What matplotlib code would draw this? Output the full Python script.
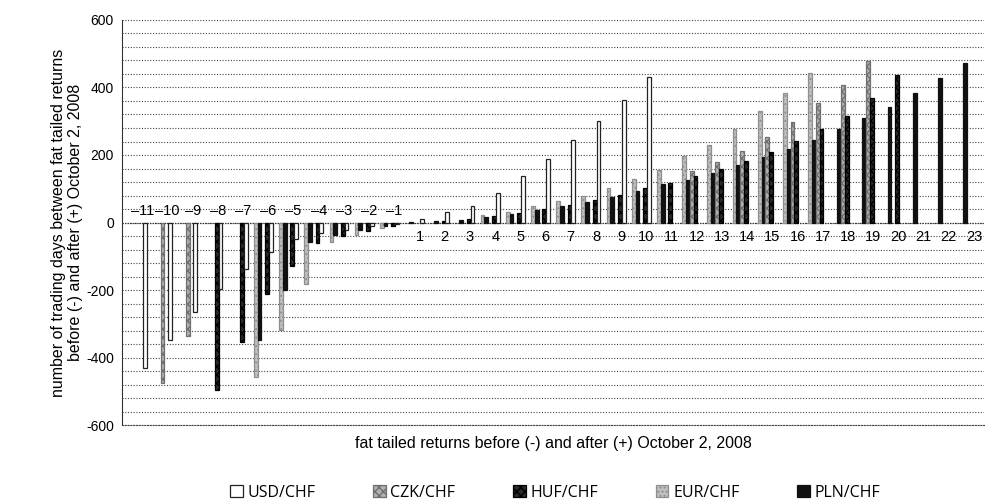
import numpy as np
import matplotlib.pyplot as plt

nan = np.nan

# category labels: fat tailed returns before (-) and after (+) Oct 2, 2008
cats = list(range(-11, 0)) + list(range(1, 24))

usd = [-430, -347, -266, -198, -139, -87, -48, -31, -21, -11, -3,
       11, 31, 50, 86, 137, 189, 244, 302, 362, 432,
       nan, nan, nan, nan, nan, nan, nan, nan, nan, nan, nan, nan, nan]
czk = [nan, -475, -335, nan, nan, nan, nan, nan, nan, nan, nan,
       nan, nan, nan, nan, nan, nan, nan, nan, nan, nan, nan,
       152, 179, 211, 253, 297, 353, 406, 478, nan, nan, nan, nan]
huf = [nan, nan, nan, -497, -355, -213, -129, -60, -40, -26, -11,
       nan, 4, 11, 19, 27, 39, 53, 66, 82, 101, 118,
       137, 159, 182, 208, 241, 278, 315, 369, 436, nan, nan, nan]
eur = [nan, nan, nan, nan, nan, -458, -319, -181, -58, -36, -16,
       nan, nan, nan, 22, 32, 48, 63, 80, 103, 129, 157,
       197, 231, 276, 330, 384, 443, nan, nan, nan, nan, nan, nan]
pln = [nan, nan, nan, nan, nan, -347, -200, -58, -36, -21, -9,
       2, 4, 8, 17, 24, 36, 50, 60, 75, 93, 113,
       127, 147, 169, 194, 218, 243, 276, 310, 343, 384, 429, 473]

plt.rcParams['font.family'] = ['Liberation Sans', 'DejaVu Sans']
plt.rcParams['axes.unicode_minus'] = False

fig = plt.figure(figsize=(9.86, 5), dpi=100)
ax = fig.add_axes([0.124, 0.15, 0.874, 0.81])

x = np.arange(len(cats))
w = 0.15

# order of bars inside a group as seen in the scan
bars = [
    ('EUR/CHF', eur, -2, dict(color='#c0c0c0', edgecolor='#8f8f8f', hatch='....')),
    ('PLN/CHF', pln, -1, dict(color='#111111', edgecolor='#111111')),
    ('CZK/CHF', czk, 0, dict(color='#b0b0b0', edgecolor='#707070', hatch='xxxx')),
    ('HUF/CHF', huf, 1, dict(color='#2a2a2a', edgecolor='#000000', hatch='xxxx')),
    ('USD/CHF', usd, 2, dict(color='white', edgecolor='#222222')),
]
handles = {}
for name, vals, k, style in bars:
    b = ax.bar(x + k * w, vals, w, linewidth=0.9, label=name, zorder=3, **style)
    handles[name] = b

ax.set_xlim(-0.6, len(cats) - 0.4)
ax.set_ylim(-600, 600)
ax.set_yticks(range(-600, 601, 200))
ax.set_yticks(range(-600, 601, 40), minor=True)
ax.tick_params(axis='y', which='both', length=0, labelsize=10, pad=6)
ax.set_xticks([])
ax.grid(axis='y', which='both', linestyle=(0, (1, 1.5)), color='#444444', linewidth=0.8)
ax.set_axisbelow(True)
for s in ['top', 'right']:
    ax.spines[s].set_visible(False)
ax.spines['bottom'].set_linestyle((0, (1, 1.5)))
ax.spines['bottom'].set_color('#444444')
ax.spines['left'].set_color('#333333')
ax.axhline(0, color='#333333', linewidth=0.9, linestyle=(0, (1, 1)), zorder=2)

for xi, c in zip(x, cats):
    if c < 0:
        ax.text(xi + 0.2, 14, '\u2013' + str(-c), ha='center', va='bottom', fontsize=10.5, zorder=4)
    else:
        ax.text(xi + 0.2, -22, str(c), ha='center', va='top', fontsize=10.5, zorder=4)

ax.set_ylabel('number of trading days between fat tailed returns\nbefore (-) and after (+) October 2, 2008',
              fontsize=11.5, labelpad=2)
ax.set_xlabel('fat tailed returns before (-) and after (+) October 2, 2008', fontsize=11.5, labelpad=8)

order = ['USD/CHF', 'CZK/CHF', 'HUF/CHF', 'EUR/CHF', 'PLN/CHF']
fig.legend([handles[n] for n in order], order, loc='lower center', bbox_to_anchor=(0.563, -0.03),
           ncol=5, frameon=False, columnspacing=3.6, handlelength=0.8, handleheight=0.8,
           handletextpad=0.3, prop={'family': ['Open Sans', 'DejaVu Sans'], 'size': 11.5})

fig.savefig('out.png', dpi=100)
